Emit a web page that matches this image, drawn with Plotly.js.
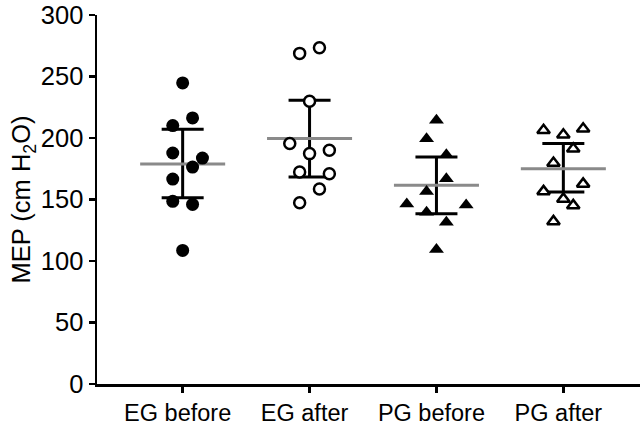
<!DOCTYPE html>
<html>
<head>
<meta charset="utf-8">
<script src="https://cdn.plot.ly/plotly-3.0.1.min.js"></script>
<style>html,body{margin:0;padding:0;background:#fff;}#chart{width:641px;height:426px;}</style>
</head>
<body>
<div id="chart"></div>
<script>
// Categories and tick labels
var categories = ["EG before", "EG after", "PG before", "PG after"];

// Individual values (cm H2O)
var egBefore = [244.8, 216.3, 210.1, 187.8, 183.7, 176.4, 166.6, 148.5, 146.0, 108.6];
var egAfter  = [268.8, 273.3, 229.9, 195.5, 190.0, 187.3, 172.3, 171.0, 158.5, 147.4];
var pgBefore = [214.4, 199.3, 186.3, 166.8, 156.6, 146.4, 145.6, 139.7, 131.5, 109.4];
var pgAfter  = [206.3, 202.6, 207.5, 191.2, 179.6, 162.7, 156.6, 150.5, 145.2, 132.2];

// Horizontal jitter slots of each point (scatter-dot layout)
var egBeforeJitter = [0, 1, -1, -1, 2, 1, -1, -1, 1, 0];
var egAfterJitter  = [-1, 1, 0, -2, 2, 0, -1, 2, 1, -1];
var pgBeforeJitter = [0, -1, 1, 1, -1, -3, 3, -1, 1, 0];
var pgAfterJitter  = [-2, 0, 2, 1, -1, 2, -2, 0, 1, -1];

// Group mean and error bar ends (95% CI)
var groupMean  = [178.9, 199.5, 161.5, 175.1];
var groupLower = [151.5, 168.3, 138.5, 156.1];
var groupUpper = [207.1, 230.7, 184.6, 195.5];

var slot = 0.078;
var catIdx = categories.map(function (c, i) { return i; });

function jx(center, jit) { return jit.map(function (j) { return center + j * slot; }); }

var errTrace = {
  type: "scatter", mode: "markers",
  x: catIdx, y: groupMean,
  marker: { size: 1, opacity: 0 },
  hoverinfo: "skip",
  error_y: {
    type: "data", symmetric: false,
    array: groupUpper.map(function (u, i) { return u - groupMean[i]; }),
    arrayminus: groupMean.map(function (m, i) { return m - groupLower[i]; }),
    color: "#000", thickness: 3, width: 21
  },
  error_x: { type: "constant", value: 0.335, color: "#8a8a8a", thickness: 3, width: 0 }
};

var lineStyle = { color: "#000", width: 2.5 };
var traces = [
  errTrace,
  { type: "scatter", mode: "markers", x: jx(0, egBeforeJitter), y: egBefore,
    marker: { symbol: "circle", size: 13, color: "#000", line: { width: 0 } } },
  { type: "scatter", mode: "markers", x: jx(1, egAfterJitter), y: egAfter,
    marker: { symbol: "circle", size: 11, color: "#fff", line: lineStyle } },
  { type: "scatter", mode: "markers", x: jx(2, pgBeforeJitter), y: pgBefore,
    marker: { symbol: "triangle-up", size: 13, color: "#000", line: { width: 0 } } },
  { type: "scatter", mode: "markers", x: jx(3, pgAfterJitter), y: pgAfter,
    marker: { symbol: "triangle-up", size: 11, color: "#fff", line: lineStyle } }
];

var fam = "Liberation Sans, Arial, sans-serif";
var xFont = { family: fam, size: 23.5, color: "#000" };
var yFont = { family: fam, size: 25.5, color: "#000" };
var layout = {
  width: 641, height: 426,
  margin: { l: 97, r: 1, t: 15, b: 42, pad: 0 },
  showlegend: false,
  paper_bgcolor: "#fff", plot_bgcolor: "#fff",
  font: yFont,
  xaxis: {
    range: [-0.675, 3.604],
    tickmode: "array", tickvals: catIdx, ticktext: categories,
    showgrid: false, zeroline: false,
    showline: true, linecolor: "#000", linewidth: 2.5,
    ticks: "outside", ticklen: 6, tickwidth: 2.5, tickcolor: "#000",
    tickfont: xFont, ticklabelshift: -5
  },
  yaxis: {
    range: [0, 300], tickmode: "linear", tick0: 0, dtick: 50,
    showgrid: false, zeroline: false,
    showline: true, linecolor: "#000", linewidth: 2.5,
    ticks: "outside", ticklen: 6, tickwidth: 2.5, tickcolor: "#000",
    tickfont: yFont,
    title: { text: "MEP (cm H<sub>2</sub>O)", font: yFont, standoff: 3 }
  }
};

Plotly.newPlot("chart", traces, layout, { staticPlot: true, displayModeBar: false });
</script>
</body>
</html>
